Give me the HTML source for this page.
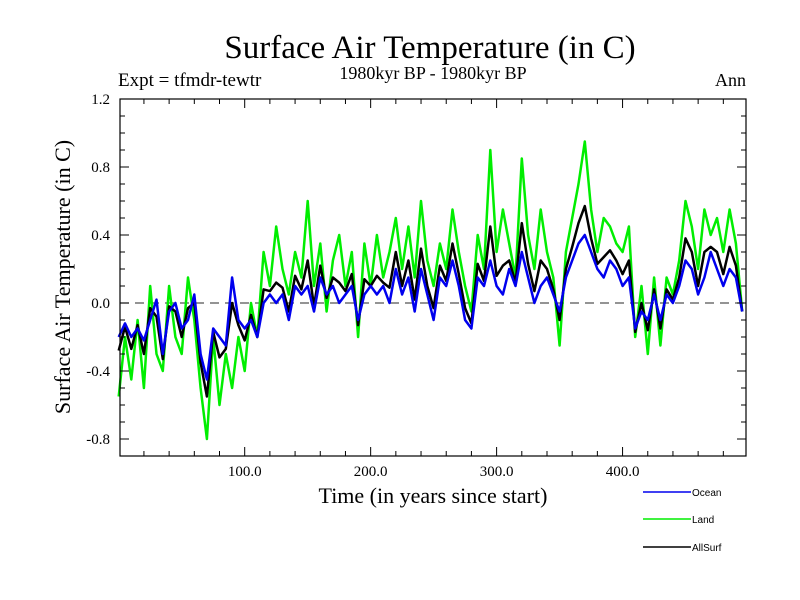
<!DOCTYPE html>
<html><head><meta charset="utf-8"><style>body{margin:0;background:#fff}svg{display:block}</style></head>
<body>
<svg id="chart" width="800" height="600" xmlns="http://www.w3.org/2000/svg" font-family="Liberation Serif, serif">
<text x="430" y="58" text-anchor="middle" font-size="33">Surface Air Temperature (in C)</text>
<text x="433" y="79" text-anchor="middle" font-size="18">1980kyr BP - 1980kyr BP</text>
<text x="118" y="86" font-size="19">Expt = tfmdr-tewtr</text>
<text x="746" y="86" text-anchor="end" font-size="18">Ann</text>
<text transform="translate(70,277) rotate(-90)" text-anchor="middle" font-size="22">Surface Air Temperature (in C)</text>
<text x="433" y="503" text-anchor="middle" font-size="22">Time (in years since start)</text>
<g id="plot"></g>
<g id="legend" font-family="Liberation Sans, sans-serif" font-size="10"></g>
</svg>
<script>
const years=[];for(let i=0;i<100;i++)years.push(i*5);
const ocean=[-0.2,-0.12,-0.2,-0.15,-0.22,-0.1,0.02,-0.3,-0.05,0.0,
-0.15,-0.1,0.05,-0.3,-0.45,-0.15,-0.2,-0.25,0.15,-0.1,
-0.15,-0.1,-0.2,0.0,0.05,0.0,0.05,-0.1,0.1,0.05,
0.1,-0.05,0.15,0.05,0.1,0.0,0.05,0.1,-0.1,0.05,
0.1,0.05,0.1,0.0,0.2,0.05,0.15,-0.05,0.2,0.05,
-0.1,0.15,0.1,0.25,0.1,-0.1,-0.15,0.15,0.1,0.25,
0.1,0.05,0.2,0.1,0.3,0.15,0.0,0.1,0.15,0.05,
-0.05,0.15,0.25,0.35,0.4,0.3,0.2,0.15,0.25,0.2,
0.1,0.15,-0.15,-0.05,-0.1,0.05,-0.1,0.05,0.0,0.1,
0.25,0.2,0.05,0.15,0.3,0.2,0.1,0.2,0.15,-0.05];
const land=[-0.55,-0.2,-0.45,-0.1,-0.5,0.1,-0.3,-0.4,0.1,-0.2,
-0.3,0.15,-0.1,-0.5,-0.8,-0.2,-0.6,-0.3,-0.5,-0.2,
-0.4,0.0,-0.2,0.3,0.1,0.45,0.2,0.05,0.3,0.15,
0.6,0.1,0.35,-0.05,0.25,0.4,0.1,0.3,-0.2,0.35,
0.1,0.4,0.15,0.3,0.5,0.2,0.45,0.15,0.6,0.25,
0.1,0.35,0.2,0.55,0.3,0.1,-0.05,0.4,0.2,0.9,
0.3,0.55,0.35,0.15,0.85,0.4,0.2,0.55,0.3,0.15,
-0.25,0.3,0.5,0.7,0.95,0.55,0.3,0.5,0.45,0.35,
0.3,0.45,-0.2,0.1,-0.3,0.15,-0.25,0.15,0.05,0.25,
0.6,0.45,0.2,0.55,0.4,0.5,0.3,0.55,0.35,-0.05];
const allsurf=[-0.28,-0.14,-0.27,-0.13,-0.3,-0.03,-0.08,-0.33,-0.02,-0.05,
-0.2,-0.03,0.0,-0.35,-0.55,-0.17,-0.32,-0.27,0.0,-0.13,
-0.22,-0.07,-0.2,0.08,0.07,0.12,0.09,-0.05,0.16,0.08,
0.25,-0.02,0.22,0.03,0.15,0.12,0.07,0.17,-0.13,0.14,
0.1,0.16,0.12,0.09,0.3,0.1,0.25,0.02,0.32,0.1,
-0.03,0.22,0.13,0.35,0.17,-0.03,-0.12,0.23,0.13,0.45,
0.16,0.22,0.25,0.12,0.47,0.23,0.07,0.25,0.2,0.08,
-0.1,0.2,0.33,0.47,0.57,0.38,0.23,0.27,0.31,0.25,
0.17,0.25,-0.17,0.0,-0.16,0.08,-0.15,0.08,0.02,0.15,
0.38,0.3,0.1,0.3,0.33,0.3,0.17,0.33,0.22,-0.05];
const yTicks=[-0.8,-0.4,0.0,0.4,0.8,1.2];
const yTickLabels=["-0.8","-0.4","0.0","0.4","0.8","1.2"];
const xTicks=[100,200,300,400];
const xTickLabels=["100.0","200.0","300.0","400.0"];
const L=120,R=746,T=99,B=456;
const X0=1,X1=498,Y0=-0.9,Y1=1.2;
const xs=v=>L+(v-X0)/(X1-X0)*(R-L);
const ys=v=>B-(v-Y0)/(Y1-Y0)*(B-T);
const NS='http://www.w3.org/2000/svg';
const plot=document.getElementById('plot');
function mk(tag,attrs,parent){const e=document.createElementNS(NS,tag);for(const k in attrs)e.setAttribute(k,attrs[k]);(parent||plot).appendChild(e);return e;}
const zl=mk('line',{x1:L,x2:R,y1:ys(0),y2:ys(0),stroke:'#555','stroke-width':1.2,'stroke-dasharray':'9,6'});


function series(vals,color,name){
 const d=vals.map((v,i)=>(i?'L':'M')+xs(years[i]).toFixed(1)+','+ys(v).toFixed(1)).join('');
 const p=mk('path',{d:d,fill:'none',stroke:color,'stroke-width':2.5,'stroke-linejoin':'round'});
 
 
}
series(land,'#00ee00','land-series');
series(allsurf,'#000000','allsurf-series');
series(ocean,'#0000ee','ocean-series');
const fr=mk('rect',{x:L,y:T,width:R-L,height:B-T,fill:'none',stroke:'#000','stroke-width':1.2});


for(let k=-9;k<=12;k++){const v=k/10,y=ys(v),len=(k%4===0)?9:5;
 mk('line',{x1:L,x2:L+len,y1:y,y2:y,stroke:'#000'});mk('line',{x1:R,x2:R-len,y1:y,y2:y,stroke:'#000'});}
for(let v=20;v<X1;v+=20){const x=xs(v),len=(v%100===0)?9:5;
 mk('line',{x1:x,x2:x,y1:B,y2:B-len,stroke:'#000'});mk('line',{x1:x,x2:x,y1:T,y2:T+len,stroke:'#000'});}
yTicks.forEach((v,i)=>{const t=mk('text',{x:L-10,y:ys(v)+5,'text-anchor':'end','font-size':15});t.textContent=yTickLabels[i];
 
 });
xTicks.forEach((v,i)=>{const t=mk('text',{x:xs(v),y:B+20,'text-anchor':'middle','font-size':15});t.textContent=xTickLabels[i];
 
 });
const lg=document.getElementById('legend');
[['Ocean','#0000ee',492],['Land','#00ee00',519],['AllSurf','#000',547]].forEach(([n,c,y])=>{
 const g=mk('g',{},lg);
 
 
 mk('line',{x1:643,x2:691,y1:y,y2:y,stroke:c,'stroke-width':1.5},g);
 const t=mk('text',{x:692,y:y+4},g);t.textContent=n;});
</script>
</body></html>
